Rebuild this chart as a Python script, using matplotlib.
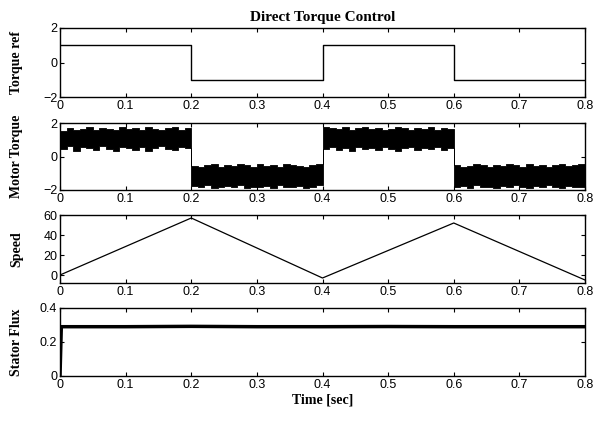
import matplotlib.pyplot as plt
import numpy as np

# time axis and ticks
xticks = [0, 0.1, 0.2, 0.3, 0.4, 0.5, 0.6, 0.7, 0.8]
xticklabels = ['0', '0.1', '0.2', '0.3', '0.4', '0.5', '0.6', '0.7', '0.8']

# torque reference (step changes)
tref_t = [0, 0.2, 0.2, 0.4, 0.4, 0.6, 0.6, 0.8]
tref_v = [1, 1, -1, -1, 1, 1, -1, -1]

# motor torque, read as upper / lower envelope of the noisy band (every 0.01 s)
mt_t = [i / 100 for i in range(81)]
mt_hi = [1.55, 1.7, 1.6, 1.65, 1.75, 1.6, 1.7, 1.65, 1.6, 1.75,
         1.65, 1.7, 1.6, 1.75, 1.65, 1.6, 1.7, 1.75, 1.6, 1.7,
         -0.55, -0.6, -0.5, -0.45, -0.6, -0.5, -0.55, -0.45, -0.5, -0.6,
         -0.45, -0.55, -0.5, -0.6, -0.45, -0.5, -0.55, -0.6, -0.5, -0.45,
         1.75, 1.7, 1.65, 1.75, 1.6, 1.7, 1.75, 1.65, 1.7, 1.6,
         1.65, 1.75, 1.7, 1.6, 1.7, 1.65, 1.75, 1.6, 1.7, 1.65,
         -0.5, -0.6, -0.55, -0.45, -0.5, -0.6, -0.5, -0.55, -0.45, -0.5,
         -0.6, -0.45, -0.55, -0.5, -0.6, -0.5, -0.45, -0.55, -0.5, -0.45,
         -0.45]
mt_lo = [0.45, 0.6, 0.35, 0.55, 0.5, 0.4, 0.6, 0.45, 0.3, 0.55,
         0.5, 0.4, 0.55, 0.35, 0.5, 0.6, 0.45, 0.4, 0.55, 0.5,
         -1.75, -1.85, -1.7, -1.9, -1.8, -1.75, -1.85, -1.7, -1.9, -1.8,
         -1.85, -1.75, -1.9, -1.7, -1.8, -1.85, -1.75, -1.9, -1.8, -1.7,
         0.45, 0.55, 0.4, 0.5, 0.35, 0.55, 0.45, 0.5, 0.4, 0.55,
         0.45, 0.35, 0.5, 0.55, 0.4, 0.5, 0.45, 0.55, 0.4, 0.5,
         -1.8, -1.75, -1.9, -1.7, -1.85, -1.8, -1.9, -1.75, -1.85, -1.7,
         -1.8, -1.9, -1.75, -1.85, -1.7, -1.8, -1.9, -1.75, -1.85, -1.8,
         -1.8]

# speed (triangular)
spd_t = [0, 0.2, 0.4, 0.6, 0.8]
spd_v = [0, 57, -3, 52, -5]

# stator flux
flux_t = [0, 0.002, 0.1, 0.2, 0.3, 0.4, 0.5, 0.6, 0.7, 0.8]
flux_v = [0, 0.29, 0.29, 0.292, 0.29, 0.29, 0.291, 0.29, 0.29, 0.29]

serif = {'family': 'Liberation Serif', 'weight': 'bold'}
plt.rcParams['font.family'] = 'Liberation Sans'
plt.rcParams['font.size'] = 9

fig = plt.figure(figsize=(5.96, 4.22), dpi=100)
W, H = 596, 422
left, right = 60, 585
tops = [28, 123, 215, 308]
bots = [97, 190, 283, 376]
axes = []
for t, b in zip(tops, bots):
    ax = fig.add_axes([left / W, 1 - b / H, (right - left) / W, (b - t) / H])
    axes.append(ax)

ax1, ax2, ax3, ax4 = axes
ax1.plot(tref_t, tref_v, color='black', lw=1)
ax1.set_ylim(-2, 2)
ax1.set_yticks([-2, 0, 2])
ax1.set_ylabel('Torque ref', fontdict=serif, fontsize=10)
ax1.set_title('Direct Torque Control', fontdict=serif, fontsize=11, pad=5)

ax2.fill_between(mt_t, mt_lo, mt_hi, step='post', color='black', lw=0.6)
ax2.set_ylim(-2, 2)
ax2.set_yticks([-2, 0, 2])
ax2.set_ylabel('Motor Torque', fontdict=serif, fontsize=10)

ax3.plot(spd_t, spd_v, color='black', lw=0.9)
ax3.set_ylim(-8, 60)
ax3.set_yticks([0, 20, 40, 60])
ax3.set_ylabel('Speed', fontdict=serif, fontsize=10)

ax4.plot(flux_t, flux_v, color='black', lw=2.5)
ax4.set_ylim(0, 0.4)
ax4.set_yticks([0, 0.2, 0.4])
ax4.set_yticklabels(['0', '0.2', '0.4'])
ax4.set_ylabel('Stator Flux', fontdict=serif, fontsize=10)
ax4.set_xlabel('Time [sec]', fontdict=serif, fontsize=10, labelpad=2)

for ax in axes:
    ax.set_xlim(0, 0.8)
    ax.set_xticks(xticks)
    ax.set_xticklabels(xticklabels)
    ax.tick_params(direction='in', top=True, right=True, length=3, pad=2, labelsize=9)
    for s in ax.spines.values():
        s.set_linewidth(1)
    ax.yaxis.set_label_coords(-0.07, 0.5)

fig.savefig('out.png', dpi=100)
